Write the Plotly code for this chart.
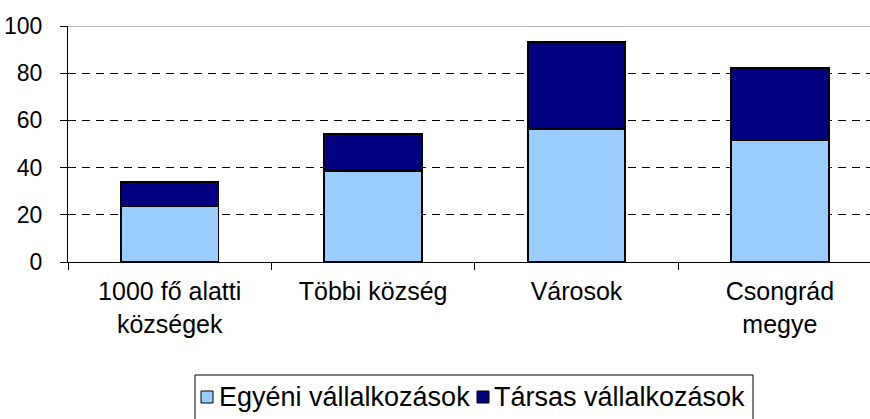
import plotly.graph_objects as go

categories = ["1000 fő alatti<br>községek", "Többi község", "Városok", "Csongrád<br>megye"]
egyeni = [23.5, 38.7, 56.5, 51.6]
tarsas = [10.5, 15.5, 36.7, 30.6]
series_names = ["Egyéni vállalkozások", "Társas vállalkozások"]
series_colors = ["#99CCFF", "#000080"]
y_ticks = [0, 20, 40, 60, 80, 100]

FONT = "Liberation Sans, Arial, sans-serif"

# plot area geometry (px)
L, R, T, B = 68, 0, 26, 157
W, H = 870, 419
PW, PH = W - L - R, H - T - B


def px_x(x):
    return (x - L) / PW


def px_y(y):
    return (H - B - y) / PH


fig = go.Figure()
for vals, name, col in zip([egyeni, tarsas], series_names, series_colors):
    fig.add_trace(go.Bar(x=categories, y=vals, name=name,
                         marker=dict(color=col, line=dict(color="#000000", width=1.8)),
                         width=0.48, showlegend=False))

fig.update_layout(
    barmode="stack",
    width=W, height=H,
    margin=dict(l=L, r=R, t=T, b=B, pad=0, autoexpand=False),
    paper_bgcolor="white", plot_bgcolor="white",
    font=dict(family=FONT, size=23, color="#000000"),
    showlegend=False,
    xaxis=dict(range=[-0.5, 3.443], showgrid=False, showline=True, linecolor="#000000",
               linewidth=1, ticks="outside", ticklen=7, tickcolor="#000000",
               tickson="boundaries", tickfont=dict(size=25), fixedrange=True,
               automargin=False, ticklabelstandoff=7),
    yaxis=dict(range=[0, 100], tickvals=y_ticks, showgrid=True, gridcolor="#000000",
               griddash="8px,6px", gridwidth=1, showline=True, linecolor="#000000",
               linewidth=1, ticks="outside", ticklen=7, tickcolor="#000000",
               zeroline=False, tickfont=dict(size=23), automargin=False,
               ticklabelstandoff=13, fixedrange=True),
)
fig.add_shape(type="line", xref="paper", yref="y", x0=0, x1=1, y0=100, y1=100,
              line=dict(color="#999999", width=1.5), layer="above")

# legend box drawn as in the original (compact Excel-style legend)
fig.add_shape(type="rect", xref="paper", yref="paper",
              x0=px_x(195), x1=px_x(753), y0=px_y(375), y1=px_y(430),
              line=dict(color="#000000", width=1), fillcolor="white")
sw_x = [201, 477]
tx_x = [217, 492]
for sx, tx, name, col in zip(sw_x, tx_x, series_names, series_colors):
    fig.add_shape(type="rect", xref="paper", yref="paper",
                  x0=px_x(sx), x1=px_x(sx + 12), y0=px_y(391), y1=px_y(403),
                  line=dict(color="#000000", width=1), fillcolor=col)
    fig.add_annotation(text=name, xref="paper", yref="paper", x=px_x(tx), y=px_y(397),
                       xanchor="left", yanchor="middle", showarrow=False,
                       font=dict(size=27, family=FONT, color="#000000"))

fig.write_html("out.html", config={"displayModeBar": False},
               post_script="document.body.style.margin='0px';")
